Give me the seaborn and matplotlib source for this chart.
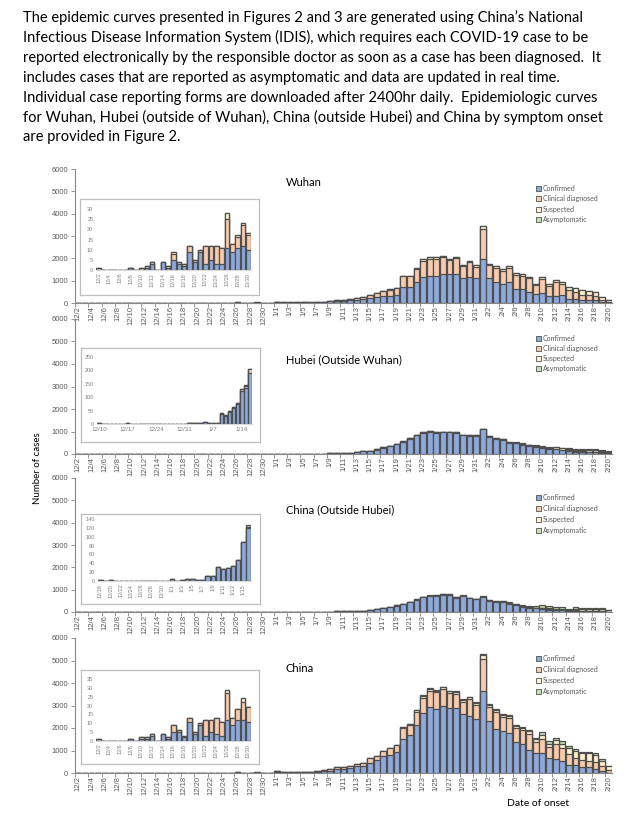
import matplotlib
matplotlib.use('Agg')
import matplotlib.pyplot as plt
from matplotlib.patches import Patch
import seaborn as sns
import numpy as np
import pandas as pd

# onset dates 12/2/2019 .. 2/20/2020
dates = pd.date_range('2019-12-02', '2020-02-20')
date_labels = [f'{d.month}/{d.day}' for d in dates]

series_names = ['Confirmed', 'Clinical diagnosed', 'Suspected', 'Asymptomatic']

# ---- Wuhan ----
wuhan_confirmed = (
    [0, 0, 0, 0, 0, 0, 1, 0, 0, 1, 3, 0, 4, 1, 5, 3, 2, 9, 4, 9, 3, 5, 3, 3, 11, 9, 11, 12, 10, 8]
    + [25, 20, 22, 20, 30, 15, 40, 40, 70, 70, 90, 130, 150, 160, 230, 250, 310, 320, 370, 700,
       730, 930, 1180, 1220, 1220, 1280, 1280, 1280, 1100, 1150, 1100]
    + [1980, 1100, 930, 850, 930, 630, 630, 480, 400, 430, 310, 310, 340, 160, 160, 130, 130, 150, 50, 20])
wuhan_clinical = (
    [1, 0, 0, 0, 0, 0, 0, 0, 1, 1, 1, 0, 0, 1, 3, 1, 1, 3, 1, 1, 9, 7, 9, 8, 14, 4, 5, 10, 7, 6]
    + [15, 10, 13, 10, 15, 10, 20, 25, 40, 45, 50, 70, 90, 90, 110, 180, 230, 280, 290, 510,
       470, 590, 700, 760, 770, 760, 630, 720, 550, 680, 530]
    + [1330, 580, 650, 590, 650, 630, 590, 630, 400, 650, 450, 620, 530, 400, 330, 240, 220, 170, 80, 30])
wuhan_suspected = (
    [0] * 14 + [1] + [0] * 9 + [3, 0, 1, 1, 1, 0]
    + [0] * 16 + [10, 10, 10, 10, 10, 30, 70, 60, 50, 60, 50, 60, 70, 70, 50]
    + [150, 70, 70, 80, 70, 70, 70, 70, 70, 70, 70, 80, 80, 160, 170, 190, 190, 160, 120, 80])
wuhan_asymptomatic = (
    [0] * 61
    + [0, 0, 0, 0, 0, 0, 0, 0, 0, 10, 10, 10, 10, 10, 10, 10, 10, 10, 10, 10])

# ---- Hubei (outside Wuhan) ----
hubei_confirmed = (
    [0, 0, 0, 0, 0, 0, 0, 0, 2, 0, 0, 0, 0, 0, 0, 2, 0, 0, 0, 0, 0, 0, 0, 0, 1, 0, 0, 0, 1, 1]
    + [5, 3, 2, 2, 7, 3, 4, 5, 38, 31, 46, 58, 73, 124, 133, 189, 280, 340, 430, 540,
       680, 830, 950, 990, 950, 960, 960, 950, 830, 820, 820]
    + [1100, 760, 660, 630, 480, 470, 420, 370, 320, 270, 210, 210, 170, 150, 110, 100, 90, 80, 60, 30])
hubei_clinical = (
    [0] * 30
    + [0] * 8 + [3, 2, 3, 4, 5, 6, 8, 15, 15, 15, 15, 15, 15, 15, 20, 20, 20, 20, 20, 20, 20, 20, 20]
    + [20] * 19 + [10])
hubei_suspected = (
    [0] * 30
    + [0] * 14 + [3, 0] + [5, 5, 5, 5, 5, 5, 10, 10, 10, 10, 10, 10, 10, 10, 10]
    + [10, 10, 15, 15, 15, 20, 20, 20, 25, 30, 40, 60, 60, 70, 50, 70, 80, 80, 70, 60])
hubei_asymptomatic = (
    [0] * 61
    + [0, 0, 5, 5, 5, 10, 10, 10, 15, 20, 20, 30, 30, 30, 30, 30, 30, 30, 20, 20])

# ---- China (outside Hubei) ----
outside_confirmed = (
    [0] * 16 + [2, 0, 2, 0, 0, 0, 1, 0, 1, 0, 1, 1, 1, 0]
    + [4, 1, 2, 5, 5, 3, 3, 12, 12, 31, 26, 30, 35, 47, 88, 120, 180, 220, 290, 370,
       455, 545, 660, 710, 720, 780, 770, 640, 710, 610, 560]
    + [660, 500, 460, 450, 380, 310, 230, 190, 160, 150, 110, 100, 90, 50, 60, 40, 40, 30, 30, 10])
outside_clinical = (
    [0] * 30
    + [0] * 15 + [3] + [5, 5, 5, 5, 5, 10, 10, 10, 10, 10, 10, 10, 10, 10, 10]
    + [10] * 20)
outside_suspected = (
    [0] * 30
    + [0] * 18 + [5, 5, 5, 5, 10, 10, 10, 10, 10, 10, 10, 10, 10]
    + [10, 10, 10, 15, 15, 20, 20, 25, 30, 40, 40, 40, 40, 40, 70, 70, 70, 80, 80, 50])
outside_asymptomatic = (
    [0] * 30
    + [0] * 15 + [3] + [0, 0, 0, 0, 5, 5, 5, 10, 10, 10, 10, 10, 10, 10, 10]
    + [20, 20, 20, 25, 25, 30, 40, 45, 60, 130, 90, 80, 80, 50, 70, 50, 50, 50, 40, 20])

# ---- China ----
china_confirmed = (
    [0, 0, 0, 0, 0, 0, 1, 0, 1, 1, 3, 0, 4, 1, 5, 5, 2, 11, 4, 9, 3, 5, 4, 3, 12, 9, 12, 12, 11, 10]
    + [45, 35, 40, 35, 40, 40, 60, 90, 110, 200, 190, 240, 290, 320, 460, 560, 740, 790, 930, 1510,
       1670, 2150, 2650, 2920, 2860, 2990, 2900, 2870, 2610, 2550, 2410]
    + [3640, 2300, 1960, 1880, 1760, 1360, 1270, 1020, 870, 900, 670, 610, 550, 360, 350, 270, 250, 200, 90, 20])
china_clinical = (
    [1, 0, 0, 0, 0, 0, 0, 0, 1, 1, 1, 0, 0, 1, 4, 1, 0, 2, 1, 1, 9, 7, 9, 8, 15, 4, 6, 10, 8, 6]
    + [25, 15, 20, 15, 20, 20, 30, 40, 50, 80, 80, 90, 110, 110, 190, 200, 230, 300, 310, 510,
       480, 580, 680, 730, 730, 730, 650, 660, 550, 720, 630]
    + [1440, 630, 740, 600, 690, 650, 630, 720, 500, 630, 490, 690, 580, 500, 330, 290, 300, 290, 220, 110])
china_suspected = (
    [0] * 16 + [1, 0, 0, 0, 0, 0, 0, 0, 2, 0, 0, 2, 0, 0]
    + [0] * 16 + [10, 10, 20, 30, 30, 50, 90, 80, 70, 90, 80, 80, 80, 90, 70]
    + [160, 90, 100, 100, 100, 100, 110, 110, 120, 150, 140, 160, 170, 260, 280, 310, 320, 300, 240, 160])
china_asymptomatic = (
    [0] * 30
    + [0] * 19 + [10, 10, 20, 30, 30, 30, 30, 30, 30, 30, 30, 30]
    + [30, 30, 30, 30, 30, 40, 50, 60, 80, 140, 110, 110, 110, 80, 90, 80, 80, 80, 60, 40])

paragraph = [
    "The epidemic curves presented in Figures 2 and 3 are generated using China\u2019s National",
    "Infectious Disease Information System (IDIS), which requires each COVID-19 case to be",
    "reported electronically by the responsible doctor as soon as a case has been diagnosed.  It",
    "includes cases that are reported as asymptomatic and data are updated in real time.",
    "Individual case reporting forms are downloaded after 2400hr daily.  Epidemiologic curves",
    "for Wuhan, Hubei (outside of Wuhan), China (outside Hubei) and China by symptom onset",
    "are provided in Figure 2.",
]

COLORS = ['#8EA9DB', '#F8CBAD', '#FFF2CC', '#C6E0B4']
EDGE = '#4F4F4F'
AXIS = '#868686'
TICK_TXT = '#595959'
TEXT_FONT = ['Lato', 'DejaVu Sans']
TICK_FONT = ['Liberation Sans', 'DejaVu Sans']

sns.set_style('white')
plt.rcParams['font.family'] = TICK_FONT

W, H = 638, 815
fig = plt.figure(figsize=(W / 100, H / 100), dpi=100)


def px_box(x0, y0, x1, y1):
    return [x0 / W, 1 - y1 / H, (x1 - x0) / W, (y1 - y0) / H]


def draw_stack(ax, series, sl, lw, width):
    parts = np.array([np.asarray(s, dtype=float)[sl] for s in series])
    cum = np.cumsum(parts, axis=0)
    labels = date_labels[sl]
    for k in range(3, -1, -1):
        sns.barplot(x=labels, y=cum[k], color=COLORS[k], saturation=1, edgecolor=EDGE,
                    linewidth=lw, width=width, errorbar=None, ax=ax)
    ax.set_xlabel('')
    ax.set_ylabel('')


panels = [
    ('Wuhan', [wuhan_confirmed, wuhan_clinical, wuhan_suspected, wuhan_asymptomatic],
     (169, 303), 183, 190, 10.3),
    ('Hubei (Outside Wuhan)', [hubei_confirmed, hubei_clinical, hubei_suspected, hubei_asymptomatic],
     (319, 454), 360, 340, 10.0),
    ('China (Outside Hubei)', [outside_confirmed, outside_clinical, outside_suspected, outside_asymptomatic],
     (478, 612), 510, 499, 11.0),
    ('China', [china_confirmed, china_clinical, china_suspected, china_asymptomatic],
     (638, 773), 669, 660, 10.8),
]

# inset: outer box, inner plot area, slice, ymax, ystep, label mode
insets = [
    ((80, 199, 259, 295), (96, 209, 251, 270), slice(0, 29), 30, 5, 'rot'),
    ((81, 348, 260, 442), (97, 357, 252, 424), slice(8, 46), 250, 50, 'week'),
    ((81, 514, 260, 604), (98, 519, 251, 581), slice(16, 46), 140, 20, 'rot'),
    ((81, 670, 259, 764), (96, 679, 251, 741), slice(0, 29), 35, 5, 'rot'),
]

legend_handles = [Patch(facecolor=c, edgecolor=EDGE, linewidth=0.6) for c in COLORS]

for (title, series, (top, bottom), title_y, leg_y, leg_sp), inset in zip(panels, insets):
    ax = fig.add_axes(px_box(75, top, 612, bottom))
    draw_stack(ax, series, slice(0, len(date_labels)), 0.9, 0.88)
    ax.set_xlim(-0.5, len(date_labels) - 0.5)
    ax.set_ylim(0, 6000)
    ax.set_yticks(range(0, 6001, 1000))
    ax.set_yticklabels([str(v) for v in range(0, 6001, 1000)], fontsize=5.5, color=TICK_TXT)
    ax.set_xticks(range(0, len(date_labels), 2))
    ax.set_xticklabels(date_labels[::2], rotation=90, fontsize=5.5, color=TICK_TXT)
    ax.set_xticks(np.arange(-0.5, len(date_labels), 2), minor=True)
    ax.tick_params(axis='x', which='major', length=0, pad=2)
    ax.tick_params(axis='x', which='minor', length=3, width=0.6, color=AXIS, bottom=True)
    ax.tick_params(axis='y', length=3, width=0.6, color=AXIS, pad=2, left=True)
    for s in ['top', 'right']:
        ax.spines[s].set_visible(False)
    for s in ['left', 'bottom']:
        ax.spines[s].set_color(AXIS)
        ax.spines[s].set_linewidth(0.8)
    ax.set_facecolor('none')

    fig.text(286 / W, 1 - title_y / H, title, fontsize=8, family=TEXT_FONT,
             ha='left', va='center', color='black')

    leg = ax.legend(legend_handles, series_names, loc='upper left',
                    bbox_to_anchor=(536 / W, 1 - (leg_y - 5) / H), bbox_transform=fig.transFigure,
                    frameon=False, handlelength=0.7, handleheight=0.7,
                    handletextpad=0.25, labelspacing=leg_sp / 5 / 1.389 - 1.0, borderpad=0,
                    borderaxespad=0, prop={'family': TEXT_FONT, 'size': 5})
    for t in leg.get_texts():
        t.set_color(TICK_TXT)

    # inset
    outer, inner, sl, ymax, ystep, mode = inset
    box = fig.add_axes(px_box(*outer))
    box.set_xticks([])
    box.set_yticks([])
    box.set_facecolor('white')
    for s in box.spines.values():
        s.set_color('#BFBFBF')
        s.set_linewidth(0.9)
        s.set_visible(True)

    iax = fig.add_axes(px_box(*inner))
    draw_stack(iax, series, sl, 0.9, 0.85)
    n = sl.stop - sl.start
    iax.set_xlim(-0.5, n - 0.5)
    iax.set_ylim(0, ymax)
    iax.set_yticks(range(0, ymax + 1, ystep))
    iax.set_yticklabels([str(v) for v in range(0, ymax + 1, ystep)], fontsize=4, color='#7F7F7F')
    labs = date_labels[sl]
    if mode == 'rot':
        iax.set_xticks(range(0, n, 2))
        iax.set_xticklabels(labs[::2], rotation=90, fontsize=4, color='#7F7F7F')
    else:
        iax.set_xticks(range(0, n, 7))
        iax.set_xticklabels(labs[::7], fontsize=4.5, color='#7F7F7F')
    iax.tick_params(axis='both', length=0, pad=2)
    iax.set_facecolor('none')
    for s in ['top', 'right', 'left']:
        iax.spines[s].set_visible(False)
    iax.spines['bottom'].set_color('#D9D9D9')
    iax.spines['bottom'].set_linewidth(0.8)

for i, line in enumerate(paragraph):
    fig.text(23 / W, 1 - (18 + 19.9 * i) / H, line, fontsize=10.5, family=TEXT_FONT,
             ha='left', va='center', color='black')

fig.text(38 / W, 1 - 468 / H, 'Number of cases', rotation=90, fontsize=7,
         family=TEXT_FONT, ha='center', va='center', color='black')
fig.text(507 / W, 1 - 803 / H, 'Date of onset', fontsize=7.5,
         family=TEXT_FONT, ha='left', va='center', color='black')

fig.savefig('out.png', dpi=100)
